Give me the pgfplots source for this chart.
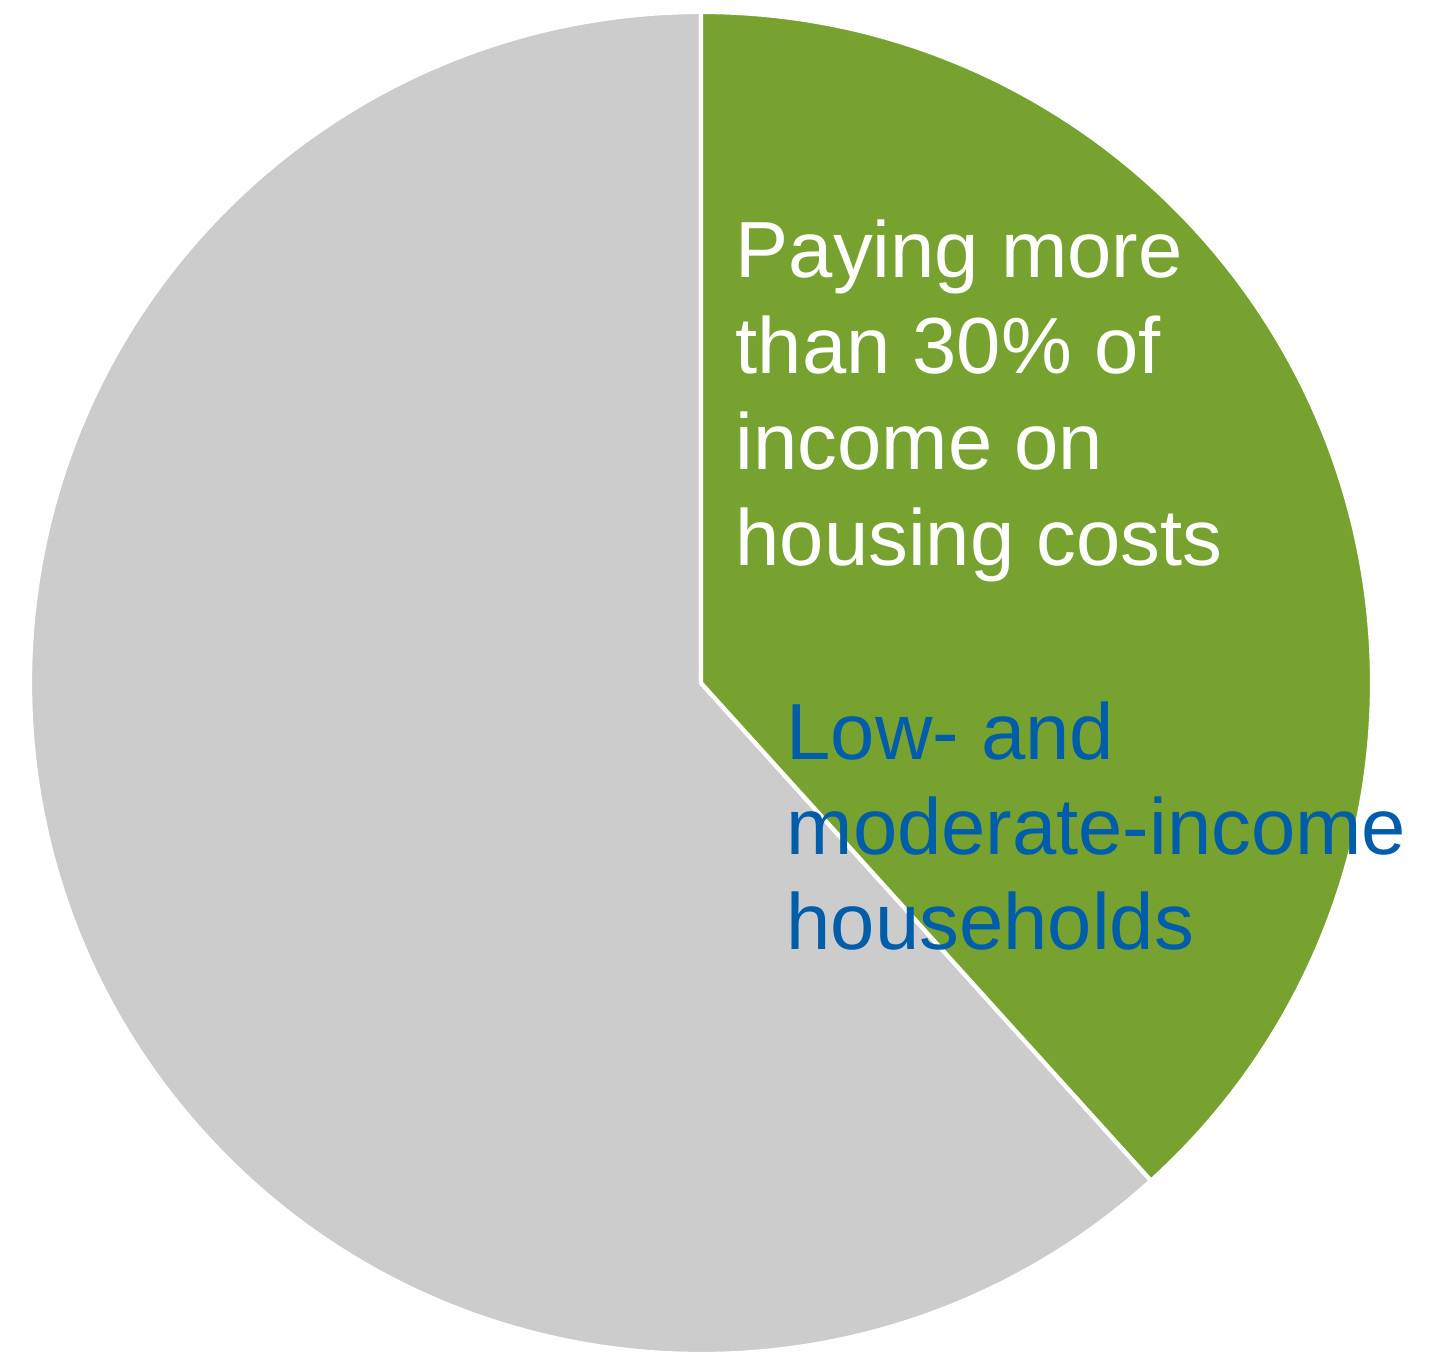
\documentclass[border=0pt]{standalone}
\usepackage{pgfplots}
\pgfplotsset{compat=1.18}
\usepackage{pgfplotstable}
\usepackage{fontspec}
\setmainfont{Liberation Sans}
\definecolor{pgreen}{HTML}{78A22F}
\definecolor{pgray}{HTML}{CCCCCC}
\definecolor{pblue}{HTML}{005DAA}
\pgfplotstableread{
label value
burdened 38.3
other 61.7
}\piedata
\begin{document}
\begin{tikzpicture}
\pgfplotstablegetelem{0}{value}\of\piedata \let\va\pgfplotsretval
\pgfplotstablegetelem{1}{value}\of\piedata \let\vb\pgfplotsretval
\pgfmathsetmacro{\aend}{90-3.6*\va}
\pgfmathsetmacro{\bend}{\aend-3.6*\vb}
\begin{axis}[
  width=14.41cm, height=13.51cm, scale only axis,
  xmin=0, xmax=1441, ymin=0, ymax=1351,
  hide axis, clip=true,
]
\path (rel axis cs:0,0) rectangle (rel axis cs:1,1);
\fill[pgray, draw=white, line width=1.2pt] (axis cs:701,668) -- ++(\aend:6.71cm) arc[start angle=\aend, end angle=\bend, radius=6.71cm] -- cycle;
\fill[pgreen, draw=white, line width=1.2pt] (axis cs:701,668) -- ++(90:6.71cm) arc[start angle=90, end angle=\aend, radius=6.71cm] -- cycle;
\begin{scope}[every node/.style={anchor=base west, inner sep=0pt, font=\fontsize{22.65pt}{27pt}\selectfont}]
\node[white] at (axis cs:735,1073) {Paying more};
\node[white] at (axis cs:735,977) {than 30\% of};
\node[white] at (axis cs:735,881) {income on};
\node[white] at (axis cs:735,785) {housing costs};
\node[pblue] at (axis cs:786,591) {Low- and};
\node[pblue] at (axis cs:786,496) {moderate-income};
\node[pblue] at (axis cs:786,401) {households};
\end{scope}
\end{axis}
\end{tikzpicture}
\end{document}
